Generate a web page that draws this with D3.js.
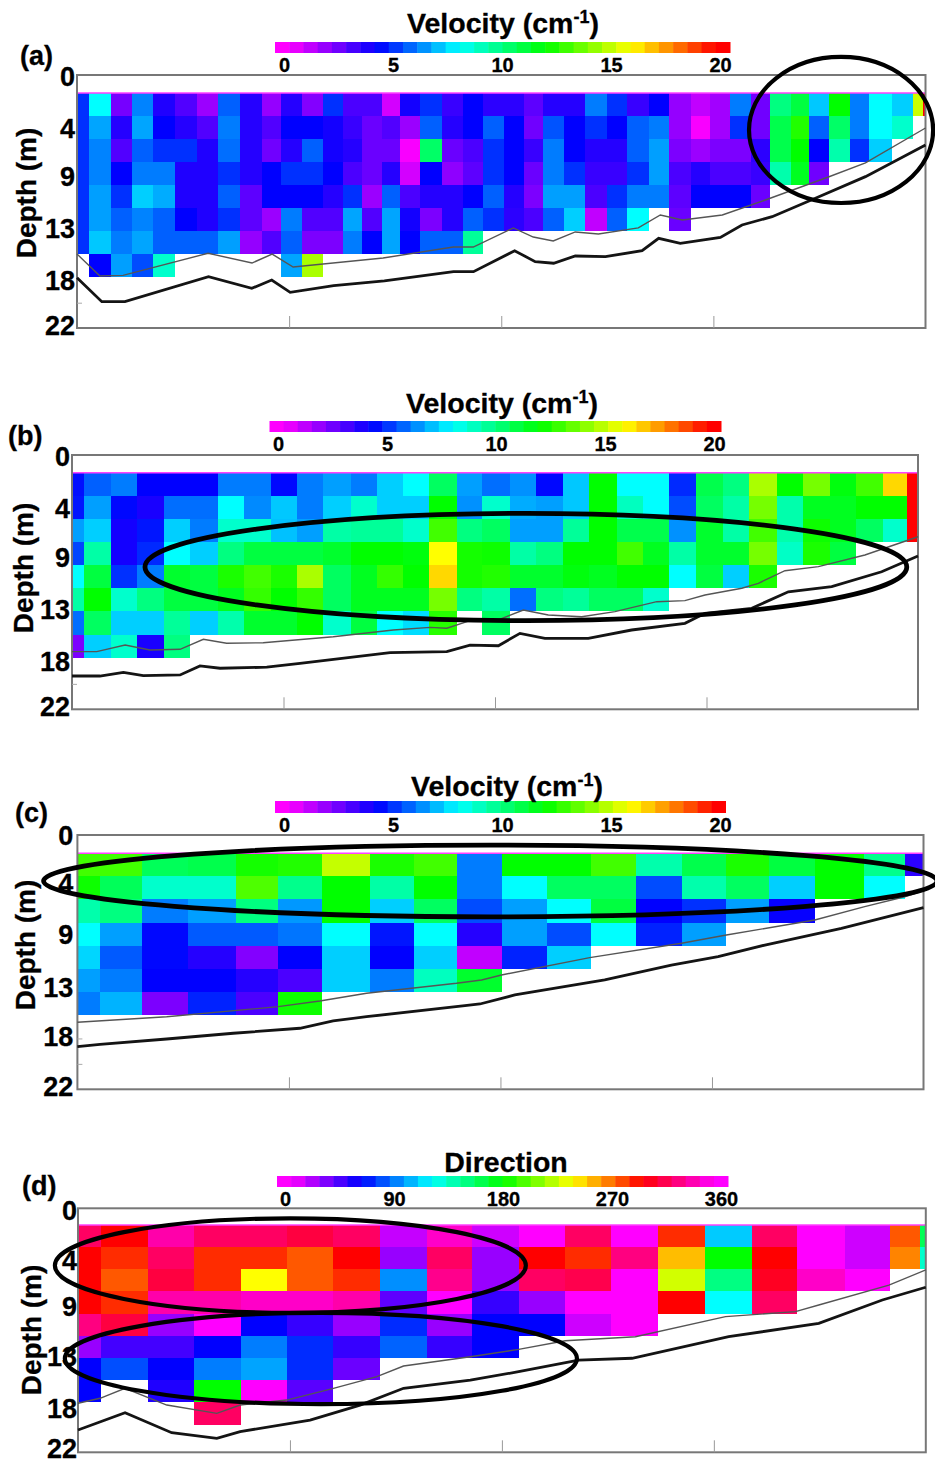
<!DOCTYPE html>
<html>
<head>
<meta charset="utf-8">
<script src="https://cdn.jsdelivr.net/npm/d3@7"></script>
<style>
  body { margin: 0; background: #fff; }
  text { font-family: "Liberation Sans", Arial, sans-serif; font-weight: bold; fill: #000; stroke: #000; stroke-width: 0.3px; }
</style>
</head>
<body>
<div id="chart"></div>
<script>
// Depth bins: first bin top (m) and bin height (m)
const firstDepth = 1.55;
const binSize = 2;

const depthTicks = [0.2, 4.7, 8.9, 13.4, 17.9, 21.8];
const depthTicksC = [0.1, 4.2, 8.6, 13.2, 17.5, 21.8];
const depthTicksD = [0.2, 4.7, 8.9, 13.4, 18.1, 21.7];
const depthLabels = ['0', '4', '9', '13', '18', '22'];
const minorTicks = [19.8];
const minorTicksC = [17.6, 19.8];
const distTicks = [1, 2, 3];
const velocityTicks = [0, 5, 10, 15, 20];
const directionTicks = [0, 90, 180, 270, 360];

// Colour stops of the two legends
const velocityStops = [0.2, 4.3, 8, 12, 15.9, 19.8];
const velocityColors = ['#ff00ff', '#0000ff', '#00ffff', '#00ff00', '#ffff00', '#ff0000'];
const directionStops = [5, 62, 121, 180, 237, 295, 355];
const directionColors = ['#ff00ff', '#0000ff', '#00ffff', '#00ff00', '#ffff00', '#ff0000', '#ff00ff'];

// Panel (a): column edges (km), one array of values per column, top bin first
const distA = [0, 0.057, 0.160, 0.259, 0.358, 0.462, 0.566, 0.665, 0.769, 0.873, 0.962, 1.061, 1.160, 1.255, 1.344, 1.439, 1.524, 1.618, 1.722, 1.821, 1.915, 2.014, 2.108, 2.198, 2.297, 2.396, 2.500, 2.594, 2.698, 2.792, 2.896, 2.986, 3.080, 3.179, 3.269, 3.368, 3.453, 3.547, 3.642, 3.736, 3.840, 3.939, 3.986, 4];
const velocityA = [
  [5, 5, 5, 5, 5, 5, 5],
  [8, 6.7, 6.2, 6.2, 6.6, 6.6, 7.2, 4.3],
  [2.4, 3.7, 3, 4.3, 5, 5.7, 6.1, 6.6],
  [6.2, 6.7, 5.7, 6.1, 7.3, 6.2, 6.7, 5.4],
  [3.8, 4.3, 5, 6.1, 6.8, 5.7, 5.7, 8.8],
  [3, 3.7, 5, 3.8, 3.8, 4.3, 5.7],
  [1.8, 3, 3.8, 3.8, 3.8, 3.8, 5.7],
  [5.7, 6.1, 5.9, 5, 5.7, 5, 6.6],
  [3.7, 3.7, 3.7, 3.7, 2.8, 2.8, 1.9],
  [1.9, 3, 2.5, 4.3, 4.3, 1.8, 3],
  [3.7, 4.3, 3.7, 5, 4.3, 6.1, 5.7, 6.7],
  [2.2, 4.3, 5.7, 5, 4.3, 3, 2.3, 14.6],
  [5, 4, 4, 4.3, 3.7, 3, 2.3],
  [3.1, 3.4, 3.7, 3.1, 5, 6.7, 6.1],
  [3.1, 2.6, 2.6, 2.6, 1.8, 3, 4.3],
  [0.9, 3, 2.6, 3.7, 5.7, 6.7, 6.7],
  [4, 1.8, 0.3, 0.9, 3.1, 4, 4.3],
  [5, 5.7, 10.4, 4.3, 3.7, 2.3, 5.7],
  [3.4, 3.7, 2.6, 2, 3.7, 3.7, 5.7],
  [4.3, 4.3, 3.1, 2.8, 4.3, 5.7, 9.6],
  [3.6, 5.7, 5, 5, 5.7, 5],
  [3.6, 4.3, 4.3, 4.3, 3.7, 3.6],
  [2.8, 2.5, 3.4, 2.6, 2.3, 3.1],
  [3.7, 5.5, 6.1, 6.1, 6.6, 5.7],
  [3.7, 4.3, 4.3, 5, 6.6, 7.3],
  [6.1, 5, 3.7, 3.4, 3.1, 1.2],
  [5, 4.3, 3.7, 3.4, 5, 5.7],
  [3.4, 5.7, 5.7, 5, 6.1, 8],
  [4.3, 6.1, 6.6, 6.6, 6.1],
  [1.9, 1.9, 2.3, 3.1, 2.8, 2.6],
  [1.2, 0.3, 1.8, 3.7, 4.3],
  [1.7, 1.7, 2.3, 3.1, 4.3],
  [6.1, 5, 2.3, 3.1, 4.3],
  [2.5, 2.5, 3.6, 3.4, 2.6],
  [10, 10.8, 10.8, 9.3],
  [11, 12.5, 12, 11.5],
  [7.2, 5.7, 4.3, 2.5],
  [12, 10.4, 9.3],
  [6.1, 6.1, 5],
  [8, 8, 7.3],
  [7.3, 8.8],
  [15.1],
  [19.8]
];
const thinDistA = [0, 0.108, 0.217, 0.618, 0.825, 0.920, 1.019, 1.443, 1.774, 1.868, 2.057, 2.151, 2.245, 2.349, 2.458, 2.646, 2.750, 2.854, 3.042, 3.245, 3.542, 3.717, 4];
const thinDepthA = [15.57, 17.48, 17.42, 15.50, 16.35, 15.57, 16.70, 15.91, 14.96, 14.96, 13.30, 14.09, 14.43, 13.65, 13.83, 13.30, 12.17, 12.61, 12.17, 10.87, 8.87, 7.65, 4.61];
const thickDistA = [0, 0.117, 0.226, 0.620, 0.824, 0.918, 1.005, 1.210, 1.449, 1.775, 1.869, 2.063, 2.160, 2.247, 2.349, 2.491, 2.664, 2.742, 2.844, 3.033, 3.135, 3.277, 3.481, 3.717, 4];
const thickDepthA = [17.63, 19.71, 19.71, 17.54, 18.55, 17.83, 18.90, 18.32, 17.91, 17.10, 17.10, 15.28, 16.23, 16.37, 15.74, 15.80, 15.28, 14.20, 14.64, 14.12, 13.04, 12.32, 10.72, 8.84, 6.09];
const ellipsesA = [[3.602, 4.78, 0.434, 6.35]];

// Panel (b)
const distB = [0, 0.058, 0.184, 0.307, 0.436, 0.558, 0.689, 0.813, 0.939, 1.062, 1.188, 1.318, 1.441, 1.566, 1.689, 1.822, 1.940, 2.071, 2.194, 2.323, 2.446, 2.575, 2.698, 2.824, 2.950, 3.077, 3.201, 3.332, 3.455, 3.584, 3.705, 3.836, 3.947, 4];
const velocityB = [
  [4.5, 4.6, 6.6, 5.3, 8, 9.4, 5.9, 2.3],
  [5.7, 6.6, 7.3, 9.4, 11, 12, 10.5, 7.3],
  [6.1, 4.4, 4, 4, 5, 8.8, 7.3, 8.8],
  [4.3, 3.9, 4.6, 4.9, 6.1, 10, 7.3, 3.9],
  [4.3, 5.9, 7.3, 8, 11.3, 11, 9.6, 10],
  [4.3, 5.9, 6.1, 7.3, 11, 11, 7.3],
  [6.1, 8, 8.8, 10, 12.4, 11.5, 9.3],
  [6.1, 6.3, 8.8, 11, 13, 12.8, 11.3],
  [4.4, 7.2, 7.1, 11, 12.4, 12, 11.3],
  [6.1, 6.1, 6.6, 11, 14.6, 12.8, 12],
  [6.6, 7.3, 9.4, 11.3, 10.5, 10.5, 8.8],
  [6.1, 8.8, 9.6, 12, 11.5, 11.5, 11],
  [7.3, 7.3, 9.6, 12, 12.8, 11.5, 8],
  [8, 7.3, 8.8, 11.8, 12, 11.5, 7.5],
  [10.5, 12, 13, 15.9, 16.5, 13.8, 12.6],
  [6.6, 6.4, 10, 12.3, 12.3, 10],
  [5.9, 8.8, 10.5, 12.2, 12.5, 9.4, 10.5],
  [6.4, 6.8, 6.6, 9.4, 11.3, 5.9],
  [4.4, 6.6, 6.6, 10, 11.3, 10],
  [7.2, 7.2, 9.6, 12, 11.8, 9.6],
  [12, 12, 12, 12, 11.5, 10.5],
  [8, 9, 10.8, 13, 12, 10.5],
  [8, 8, 10.8, 11.5, 12, 8.8],
  [4.9, 5.4, 6.4, 9.4, 8],
  [10.8, 10.5, 11.3, 11.3, 11],
  [10, 9.4, 9.4, 11.3, 7.3],
  [14.6, 13.8, 13, 13.8, 12.4],
  [12, 9.3, 9.3, 8.9],
  [13.8, 11.5, 12.2, 12.4],
  [11.8, 11.5, 11.5, 11],
  [13, 12, 10.5],
  [16.5, 12, 8.8],
  [19.8, 19.8, 19.8]
];
const thinDistB = [0, 0.117, 0.251, 0.369, 0.511, 0.621, 0.731, 0.904, 1.235, 1.519, 1.693, 1.772, 1.882, 2.016, 2.134, 2.252, 2.410, 2.567, 2.765, 2.898, 2.993, 3.167, 3.245, 3.371, 3.529, 3.749, 4];
const thinDepthB = [17.01, 17.01, 16.44, 16.87, 16.81, 15.94, 16.29, 16.24, 15.72, 15.14, 14.91, 14.99, 14.33, 14.27, 13.41, 13.84, 13.99, 13.55, 12.69, 12.60, 12.11, 11.53, 11.10, 10.01, 9.66, 8.65, 7.07];
const thickDistB = [0, 0.132, 0.243, 0.337, 0.511, 0.605, 0.700, 0.921, 1.078, 1.504, 1.772, 1.882, 2.016, 2.118, 2.236, 2.441, 2.646, 2.898, 2.993, 3.214, 3.387, 3.592, 3.828, 4];
const thickDepthB = [19.12, 19.12, 18.80, 19.09, 19.03, 18.25, 18.45, 18.36, 18.02, 17.10, 17.01, 16.44, 16.50, 15.43, 15.86, 15.86, 15.14, 14.56, 13.69, 13.26, 11.83, 11.39, 10.10, 8.74];
const ellipsesB = [[2.146, 9.69, 1.801, 4.64]];

// Panel (c)
const distC = [0, 0.107, 0.304, 0.524, 0.748, 0.949, 1.157, 1.383, 1.592, 1.795, 2.005, 2.218, 2.430, 2.640, 2.859, 3.068, 3.270, 3.486, 3.717, 3.914, 4];
const velocityC = [
  [13, 12.2, 9.3, 8, 7.4, 6.6, 6.1],
  [13, 10.6, 10, 6.6, 5.6, 6.1, 6.9],
  [10.6, 8.8, 6.1, 4.4, 4.4, 4.3, 2.3],
  [10.8, 8.8, 6.6, 5.6, 3.7, 4.3, 4.8],
  [12.3, 13.2, 10, 5.6, 2.2, 3.7, 3.1],
  [12.5, 9.8, 6.5, 6, 4.3, 3.1, 12.2],
  [15, 12, 12, 8, 7.3, 7.3],
  [12.4, 9.4, 7.3, 4.6, 4.3, 6.1],
  [13, 12, 10.5, 8, 7.3, 9],
  [6.1, 6.1, 5.4, 3.7, 1.2, 11.3],
  [12, 8, 6.6, 6.6, 4.8],
  [12, 10.5, 8, 5.4, 7.3],
  [13, 10.5, 11, 8],
  [9.3, 5.4, 4.3, 4.8],
  [10.8, 9.3, 5, 6.6],
  [12.4, 10.5, 6.6],
  [11, 7.3, 4.2],
  [12, 12],
  [9.8, 8],
  [3.6]
];
const thinDistC = [0, 0.422, 0.949, 1.146, 1.367, 1.792, 1.911, 2.005, 2.422, 2.856, 3.068, 3.486, 3.722, 3.911, 4];
const thinDepthC = [16.20, 15.72, 14.85, 14.36, 13.69, 12.83, 12.54, 12.11, 10.61, 9.37, 8.65, 7.35, 6.20, 5.34, 4.84];
const thickDistC = [0, 0.107, 0.422, 0.737, 1.052, 1.209, 1.367, 1.832, 1.903, 2.068, 2.493, 2.808, 3.029, 3.250, 3.612, 4];
const thickDepthC = [18.31, 18.11, 17.65, 17.15, 16.72, 16.09, 15.72, 14.77, 14.62, 13.84, 12.54, 11.25, 10.53, 9.52, 8.07, 6.29];
const ellipsesC = [[1.952, 3.98, 2.112, 3.10]];

// Panel (d)
const distD = [0, 0.109, 0.332, 0.548, 0.768, 0.985, 1.205, 1.423, 1.646, 1.859, 2.079, 2.296, 2.517, 2.735, 2.957, 3.178, 3.393, 3.617, 3.829, 3.971, 4];
const directionD = [
  [318, 295, 295, 295, 325, 28, 62, 62],
  [295, 285, 275, 285, 310, 47, 80],
  [335, 318, 310, 335, 28, 47, 62, 55],
  [318, 285, 285, 335, 355, 62, 91, 180, 318],
  [318, 285, 237, 342, 62, 91, 100, 355],
  [310, 275, 275, 342, 50, 72, 72, 42],
  [318, 295, 285, 335, 28, 50, 38],
  [18, 28, 95, 41, 72, 85],
  [342, 318, 328, 355, 28, 50],
  [16, 28, 28, 50, 62, 62],
  [355, 295, 318, 28, 62],
  [318, 285, 313, 355, 16],
  [355, 325, 355, 355, 355],
  [285, 252, 227, 295],
  [109, 180, 150, 121],
  [318, 295, 303, 318],
  [355, 355, 342],
  [16, 16, 355],
  [275, 265],
  [160, 133]
];
const thinDistD = [0, 0.104, 0.222, 0.419, 0.655, 0.765, 0.985, 1.205, 1.410, 1.536, 1.851, 2.079, 2.299, 2.630, 3.055, 3.385, 3.495, 3.826, 4];
const thinDepthD = [17.58, 17.13, 16.23, 17.74, 18.49, 17.74, 17.29, 16.23, 15.18, 14.22, 13.38, 12.72, 11.94, 11.58, 9.77, 9.32, 8.72, 6.92, 5.56];
const thickDistD = [0, 0.222, 0.442, 0.655, 0.765, 1.095, 1.331, 1.536, 1.851, 2.079, 2.362, 2.614, 3.070, 3.495, 3.795, 4];
const thickDepthD = [19.99, 18.43, 20.23, 20.74, 20.14, 19.09, 17.74, 16.23, 15.5, 14.73, 13.68, 13.52, 11.58, 10.37, 8.27, 7.12];
const ellipsesD = [[1.002, 5.16, 1.111, 4.26], [1.146, 13.54, 1.208, 4.12]];

const velocityColor = d3.scaleLinear().domain(velocityStops).range(velocityColors).clamp(true);
const directionColor = d3.scaleLinear().domain(directionStops).range(directionColors).clamp(true);

// Page layout of the four panels
const panels = [
  {
    id: 'a', left: 77, right: 925.5, top: 75, bottom: 328, firstDepth: 1.57,
    dist: distA, values: velocityA, color: velocityColor,
    thin: [thinDistA, thinDepthA], thick: [thickDistA, thickDepthA], ellipses: ellipsesA, ellipseWidth: 4.2,
    ticks: depthTicks, minor: minorTicks, tickPad: 2,
    bar: { left: 275, right: 730, y: 42, h: 11, zero: 284, end: 720, ticks: velocityTicks, max: 20 },
    title: { x: 503, y: 33, sup: true },
    tag: { x: 20, y: 65 }, depthLabel: { x: 36, y: 193 }
  },
  {
    id: 'b', left: 72, right: 918, top: 455, bottom: 709.3, firstDepth: 1.53,
    dist: distB, values: velocityB, color: velocityColor,
    thin: [thinDistB, thinDepthB], thick: [thickDistB, thickDepthB], ellipses: ellipsesB, ellipseWidth: 4.8,
    ticks: depthTicks, minor: minorTicks, tickPad: 2,
    bar: { left: 269.5, right: 721, y: 421, h: 11, zero: 278, end: 714, ticks: velocityTicks, max: 20 },
    title: { x: 502, y: 413, sup: true },
    tag: { x: 8, y: 445 }, depthLabel: { x: 33, y: 568 }
  },
  {
    id: 'c', left: 77.4, right: 923.5, top: 835, bottom: 1089.3, firstDepth: 1.58,
    dist: distC, values: velocityC, color: velocityColor,
    thin: [thinDistC, thinDepthC], thick: [thickDistC, thickDepthC], ellipses: ellipsesC, ellipseWidth: 4.8,
    ticks: depthTicksC, minor: minorTicksC, tickPad: 4,
    bar: { left: 275, right: 725.5, y: 801, h: 12, zero: 284, end: 720, ticks: velocityTicks, max: 20 },
    title: { x: 507, y: 796, sup: true },
    tag: { x: 15, y: 822 }, depthLabel: { x: 35, y: 945 }
  },
  {
    id: 'd', left: 78, right: 925.8, top: 1208.3, bottom: 1452.3, firstDepth: firstDepth - 0.05,
    dist: distD, values: directionD, color: directionColor,
    thin: [thinDistD, thinDepthD], thick: [thickDistD, thickDepthD], ellipses: ellipsesD, ellipseWidth: 4.2,
    ticks: depthTicksD, minor: [], tickPad: 1,
    bar: { left: 277, right: 728, y: 1176, h: 11, zero: 285, end: 721, ticks: directionTicks, max: 360 },
    title: { x: 506, y: 1172, sup: false },
    tag: { x: 22, y: 1195 }, depthLabel: { x: 41, y: 1330 }
  }
];

const svg = d3.select('#chart').append('svg')
  .attr('width', 935)
  .attr('height', 1459);

const LEGEND_STEPS = 32;

panels.forEach(p => {
  const g = svg.append('g').attr('class', `panel-${p.id}`);
  const x = d3.scaleLinear().domain([0, 4]).range([p.left, p.right]);
  const y = d3.scaleLinear().domain([0, 22]).range([p.top, p.bottom]);

  // Cells
  const cells = p.values.flatMap((col, i) => col.map((v, j) => ({ i, j, v })));
  g.append('g').selectAll('rect')
    .data(cells)
    .join('rect')
    .attr('x', d => x(p.dist[d.i]))
    .attr('width', d => x(p.dist[d.i + 1]) - x(p.dist[d.i]))
    .attr('y', d => y(p.firstDepth + binSize * d.j))
    .attr('height', d => y(p.firstDepth + binSize * (d.j + 1)) - y(p.firstDepth + binSize * d.j))
    .attr('fill', d => p.color(d.v))
    .attr('shape-rendering', 'crispEdges');

  // Pink line on top of the first bin
  g.append('line')
    .attr('x1', x(0)).attr('x2', x(4))
    .attr('y1', y(p.firstDepth)).attr('y2', y(p.firstDepth))
    .attr('stroke', '#ff40ff')
    .attr('stroke-width', 1.5);

  // Frame and axes
  g.append('rect')
    .attr('x', p.left).attr('y', p.top)
    .attr('width', p.right - p.left).attr('height', p.bottom - p.top)
    .attr('fill', 'none')
    .attr('stroke', '#777')
    .attr('stroke-width', 2);

  const xAxis = g.append('g')
    .attr('transform', `translate(0,${p.bottom})`)
    .call(d3.axisBottom(x).tickValues(distTicks).tickSize(-12).tickFormat(''));
  xAxis.select('.domain').remove();
  xAxis.selectAll('line').attr('stroke', '#999');

  const minorAxis = g.append('g')
    .attr('transform', `translate(${p.left},0)`)
    .call(d3.axisRight(y).tickValues(p.minor).tickSize(5).tickFormat(''));
  minorAxis.select('.domain').remove();
  minorAxis.selectAll('line').attr('stroke', '#aaa');

  const yAxis = g.append('g')
    .attr('transform', `translate(${p.left},0)`)
    .call(d3.axisLeft(y).tickValues(p.ticks).tickSize(0).tickPadding(p.tickPad)
      .tickFormat((d, i) => depthLabels[i]));
  yAxis.select('.domain').remove();
  yAxis.selectAll('text').attr('font-size', 27).attr('font-family', null);

  // Bottom lines
  const line = d3.line().x(d => x(d[0])).y(d => y(d[1]));
  g.append('path')
    .attr('d', line(d3.zip(p.thin[0], p.thin[1])))
    .attr('fill', 'none')
    .attr('stroke', '#555')
    .attr('stroke-width', 1.4);
  g.append('path')
    .attr('d', line(d3.zip(p.thick[0], p.thick[1])))
    .attr('fill', 'none')
    .attr('stroke', '#141414')
    .attr('stroke-width', 2.8);

  // Highlight ellipses
  g.append('g').selectAll('ellipse')
    .data(p.ellipses)
    .join('ellipse')
    .attr('cx', d => x(d[0]))
    .attr('cy', d => y(d[1]))
    .attr('rx', d => x(d[2]) - x(0))
    .attr('ry', d => y(d[3]) - y(0))
    .attr('fill', 'none')
    .attr('stroke', '#000')
    .attr('stroke-width', p.ellipseWidth);

  // Colour bar
  const b = p.bar;
  const legendX = d3.scaleLinear().domain([0, b.max]).range([b.zero, b.end]);
  const stepW = (b.right - b.left) / LEGEND_STEPS;
  g.append('g').selectAll('rect')
    .data(d3.range(LEGEND_STEPS))
    .join('rect')
    .attr('x', d => b.left + d * stepW)
    .attr('width', stepW + 0.5)
    .attr('y', b.y)
    .attr('height', b.h)
    .attr('fill', d => p.color(legendX.invert(b.left + (d + 0.5) * stepW)));

  const legendAxis = g.append('g')
    .attr('transform', `translate(0,${b.y + b.h})`)
    .call(d3.axisBottom(legendX).tickValues(b.ticks).tickSize(0).tickPadding(5));
  legendAxis.select('.domain').remove();
  legendAxis.selectAll('text').attr('font-size', 20).attr('font-family', null);

  // Texts
  const title = g.append('text')
    .attr('x', p.title.x).attr('y', p.title.y)
    .attr('text-anchor', 'middle')
    .attr('font-size', 28.5);
  if (p.title.sup) {
    title.append('tspan').text('Velocity (cm');
    title.append('tspan').attr('dy', -10).attr('font-size', 18).text('-1');
    title.append('tspan').attr('dy', 10).text(')');
  } else {
    title.text('Direction');
  }

  g.append('text')
    .attr('x', p.tag.x).attr('y', p.tag.y)
    .attr('font-size', 27)
    .text(`(${p.id})`);

  g.append('text')
    .attr('transform', `translate(${p.depthLabel.x},${p.depthLabel.y}) rotate(-90)`)
    .attr('text-anchor', 'middle')
    .attr('font-size', 28)
    .text('Depth (m)');
});
</script>
</body>
</html>
